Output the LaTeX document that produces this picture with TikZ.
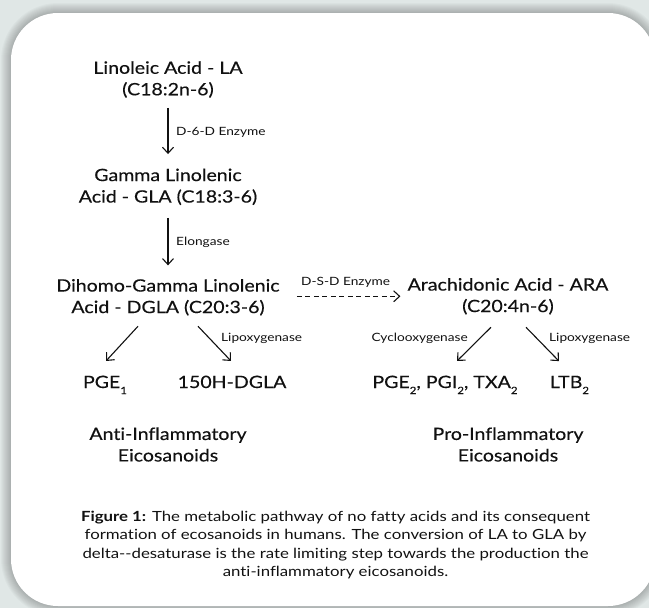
\documentclass[tikz,border=0pt]{standalone}
\usepackage{fontspec}
\setmainfont{Lato}
\newfontfamily\mainf[FakeStretch=1.15,FakeBold=0.3,Ligatures=NoCommon]{Lato}
\newfontfamily\capf[FakeStretch=1.2,Ligatures=NoCommon]{Lato}
\usetikzlibrary{arrows.meta,calc}
\definecolor{bgc}{HTML}{E0E7E6}
\definecolor{txt}{HTML}{111111}
\newcommand\mysub[1]{\raisebox{-0.7ex}{\fontsize{10}{10}\selectfont #1}}
\begin{document}
\begin{tikzpicture}[x=1pt,y=-1pt,
  mainlbl/.style={font=\mainf\fontsize{17}{21.5}\selectfont, align=center, inner sep=0pt, text=txt},
  prodlbl/.style={font=\mainf\fontsize{17}{21.5}\selectfont, inner sep=0pt, anchor=base, text=txt},
  smalllbl/.style={font=\capf\fontsize{11.4}{12}\selectfont, inner sep=0pt, anchor=base west, text=txt},
  caplbl/.style={font=\capf\fontsize{14}{18.5}\selectfont, align=center, inner sep=0pt, text=txt},
  arr/.style={-{Straight Barb[length=6pt,width=11pt]}, line width=1.1pt, draw=txt},
  dashedarr/.style={arr, dash pattern=on 5pt off 3.5pt}
]
\useasboundingbox (0,0) rectangle (649,608);
\begin{scope}
\clip (0,0) rectangle (649,608);
\fill[bgc] (0,0) rectangle (649,608);
\foreach \i in {1,...,10}{
  \fill[black, opacity=0.022, rounded corners={47+\i}] (11-\i,13-\i) rectangle (655+\i,606+\i);
}
\fill[white, rounded corners=47] (11,13) rectangle (655,606);
\end{scope}

\node[mainlbl] (la) at (168,79.5) {Linoleic Acid - LA\\(C18:2n-6)};
\node[mainlbl] (gla) at (168,186.8) {Gamma Linolenic\\Acid - GLA (C18:3-6)};
\node[mainlbl] (dgla) at (168,297.3) {Dihomo-Gamma Linolenic\\Acid - DGLA (C20:3-6)};
\node[mainlbl] (ara) at (508,296.3) {Arachidonic Acid - ARA\\(C20:4n-6)};

\node[prodlbl] (pge1) at (105,388) {PGE\mysub{1}};
\node[prodlbl] (h15) at (232,388) {150H-DGLA};
\node[prodlbl] (pge2) at (445,388) {PGE\mysub{2}, PGI\mysub{2}, TXA\mysub{2}};
\node[prodlbl] (ltb) at (569.5,388) {LTB\mysub{2}};

\node[mainlbl] (anti) at (168,444.5) {Anti-Inflammatory\\Eicosanoids};
\node[mainlbl] (pro) at (508,444.5) {Pro-Inflammatory\\Eicosanoids};

\node[smalllbl] (e1) at (176,135.8) {D-6-D Enzyme};
\node[smalllbl] (e2) at (176,245.7) {Elongase};
\node[smalllbl] (e3) at (301,285.7) {D-S-D Enzyme};
\node[smalllbl] (e4) at (221,341.7) {Lipoxygenase};
\node[smalllbl, anchor=base east] (e5) at (468,341.7) {Cyclooxygenase};
\node[smalllbl] (e6) at (549,341.7) {Lipoxygenase};

\draw[arr, shorten <=10pt, shorten >=14.3pt] (la.south) -- (gla.north);
\draw[arr, shorten <=12.7pt, shorten >=13.5pt] (gla.south) -- (dgla.north);
\draw[dashedarr] ($(dgla.east |- ara.west)+(17,0)$) -- ($(ara.west)+(-7,0)$);
\draw[arr] ($(dgla.south)+(-30,10.5)$) -- ($(pge1.north)+(1,-14.5)$);
\draw[arr] ($(dgla.south)+(30,10.5)$) -- ($(h15.north)+(-1,-14.5)$);
\draw[arr] ($(ara.south)+(-17,12.5)$) -- ($(pge2.north)+(12,-14.5)$);
\draw[arr] ($(ara.south)+(18,12.5)$) -- ($(ltb.north)+(-10.5,-14.5)$);

\node[caplbl] (cap) at (335.5,545.2) {{\bfseries Figure 1:} The metabolic pathway of no fatty acids and its consequent\\formation of ecosanoids in humans. The conversion of LA to GLA by\\delta-{}-desaturase is the rate limiting step towards the production the\\anti-inflammatory eicosanoids.};
\end{tikzpicture}
\end{document}
